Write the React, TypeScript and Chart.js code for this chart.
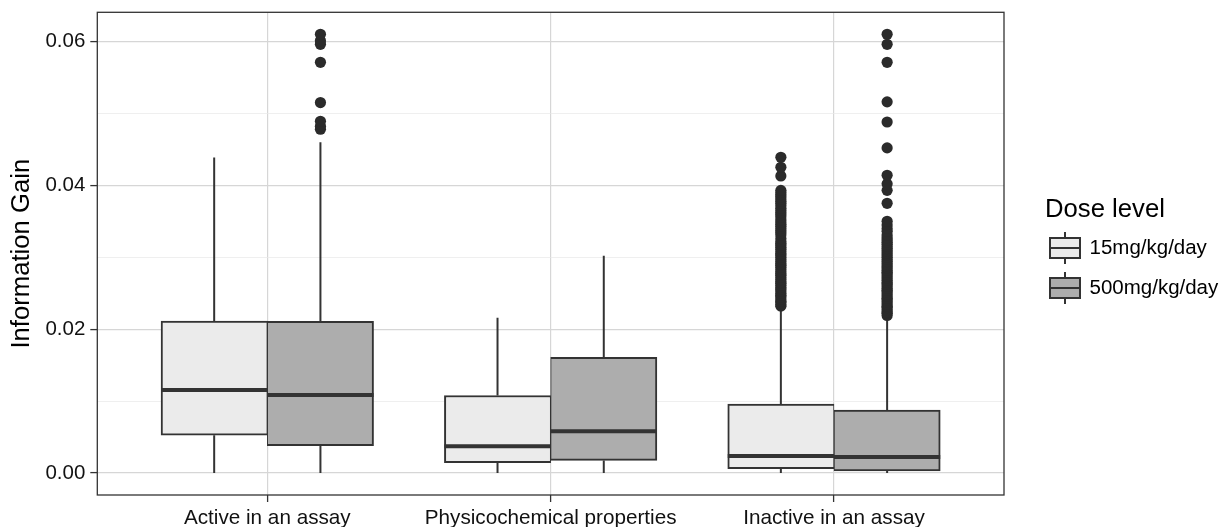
import { useEffect, useRef } from 'react';
import { Chart, registerables } from 'chart.js';

Chart.register(...registerables);

// ---------- data ----------
const categories = ['Active in an assay', 'Physicochemical properties', 'Inactive in an assay'];
const doseLevels = ['15mg/kg/day', '500mg/kg/day'];
const legendTitle = 'Dose level';
const yAxisTitle = 'Information Gain';

// box statistics per category (15mg/kg/day)
const low15 = [0, 0, 0];
const q1_15 = [0.00526, 0.00144, 0.0006];
const median15 = [0.01156, 0.00372, 0.00238];
const q3_15 = [0.02113, 0.01078, 0.0096];
const high15 = [0.04385, 0.0216, 0.0229];

// box statistics per category (500mg/kg/day)
const low500 = [0, 0, 0];
const q1_500 = [0.00382, 0.00176, 0.00028];
const median500 = [0.01086, 0.00582, 0.00224];
const q3_500 = [0.0211, 0.0161, 0.00876];
const high500 = [0.046, 0.0302, 0.0215];

// outliers per category
const outliers15: number[][] = [
  [],
  [],
  [
    0.0232, 0.0234, 0.0237, 0.0239, 0.0242, 0.0245, 0.0247, 0.025, 0.0253, 0.0256, 0.0258,
    0.0261, 0.0264, 0.0266, 0.0269, 0.0272, 0.0275, 0.0277, 0.028, 0.0283, 0.0286, 0.0289,
    0.0291, 0.0294, 0.0297, 0.03, 0.0303, 0.0305, 0.0308, 0.0311, 0.0314, 0.0317, 0.0319,
    0.0322, 0.0326, 0.0331, 0.0334, 0.0337, 0.034, 0.0343, 0.0346, 0.0349, 0.0352, 0.0356,
    0.0359, 0.0362, 0.0365, 0.0368, 0.0372, 0.0375, 0.0378, 0.0381, 0.0384, 0.0387, 0.039,
    0.0393, 0.0413, 0.0425, 0.0439,
  ],
];
const outliers500: number[][] = [
  [0.0478, 0.0482, 0.0489, 0.0515, 0.0571, 0.0596, 0.0601, 0.061],
  [],
  [
    0.0219, 0.0222, 0.0224, 0.0227, 0.023, 0.0232, 0.0235, 0.0238, 0.0241, 0.0243, 0.0246,
    0.0249, 0.0252, 0.0254, 0.0257, 0.026, 0.0263, 0.0265, 0.0268, 0.0271, 0.0274, 0.0277,
    0.0279, 0.0282, 0.0285, 0.0288, 0.0291, 0.0294, 0.0297, 0.03, 0.0303, 0.0306, 0.0309,
    0.0312, 0.0315, 0.0318, 0.0321, 0.0324, 0.0327, 0.0331, 0.0336, 0.034, 0.0345, 0.035,
    0.0375, 0.0393, 0.0402, 0.0414, 0.0452, 0.0488, 0.0516, 0.0571, 0.0596, 0.061,
  ],
];

const yGridValues = [0, 0.01, 0.02, 0.03, 0.04, 0.05, 0.06];
const yTickValues = [0, 0.02, 0.04, 0.06];
const yTickLabels = ['0.00', '0.02', '0.04', '0.06'];
const yMin = -0.00305;
const yMax = 0.06405;

// ---------- styles ----------
const FONT = "'Liberation Sans', Arial, Helvetica, sans-serif";
const doseFills = ['#EBEBEB', '#ADADAD'];
const lineColor = '#333333';
const pointColor = '#2b2b2b';
const dodge = 0.375; // box width in category units
const xMin = 0.4;
const xMax = 3.6;

const stats = [
  { low: low15, q1: q1_15, med: median15, q3: q3_15, high: high15, out: outliers15 },
  { low: low500, q1: q1_500, med: median500, q3: q3_500, high: high500, out: outliers500 },
];

const posOf = (cat: number, group: number) => cat + 1 + (group === 0 ? -dodge / 2 : dodge / 2);

function buildDatasets() {
  const datasets: any[] = [];
  stats.forEach((s, g) => {
    datasets.push({
      type: 'bar',
      label: doseLevels[g],
      data: categories.map((_, i) => ({ x: posOf(i, g), y: [s.q1[i], s.q3[i]] })),
      backgroundColor: doseFills[g],
      borderColor: lineColor,
      borderWidth: g === 0 ? { top: 2, bottom: 2, left: 2, right: 1 } : { top: 2, bottom: 2, left: 1, right: 2 },
      borderSkipped: false,
      grouped: false,
      barPercentage: 1,
      categoryPercentage: 1,
      order: 2,
    });
  });
  // whiskers
  const whiskerData: any[] = [];
  stats.forEach((s, g) => {
    categories.forEach((_, i) => {
      const x = posOf(i, g);
      whiskerData.push({ x, y: s.low[i] }, { x, y: s.q1[i] }, { x, y: null });
      whiskerData.push({ x, y: s.q3[i] }, { x, y: s.high[i] }, { x, y: null });
    });
  });
  datasets.push({
    type: 'line',
    label: 'whiskers',
    data: whiskerData,
    borderColor: lineColor,
    borderWidth: 2,
    pointRadius: 0,
    spanGaps: false,
    borderCapStyle: 'butt',
    order: 3,
  });
  // medians
  const medianData: any[] = [];
  stats.forEach((s, g) => {
    categories.forEach((_, i) => {
      const x = posOf(i, g);
      medianData.push({ x: x - dodge / 2, y: s.med[i] }, { x: x + dodge / 2, y: s.med[i] }, { x, y: null });
    });
  });
  datasets.push({
    type: 'line',
    label: 'medians',
    data: medianData,
    borderColor: lineColor,
    borderWidth: 4,
    pointRadius: 0,
    spanGaps: false,
    borderCapStyle: 'butt',
    order: 1,
  });
  // outliers
  stats.forEach((s, g) => {
    const pts: any[] = [];
    categories.forEach((_, i) => {
      s.out[i].forEach((v) => pts.push({ x: posOf(i, g), y: v }));
    });
    datasets.push({
      type: 'scatter',
      label: 'outliers ' + doseLevels[g],
      data: pts,
      backgroundColor: pointColor,
      borderWidth: 0,
      pointRadius: 5.6,
      order: 0,
    });
  });
  return datasets;
}

const panelBorder = {
  id: 'panelBorder',
  afterDatasetsDraw(chart: any) {
    const { ctx, chartArea } = chart;
    ctx.save();
    ctx.strokeStyle = lineColor;
    ctx.lineWidth = 1.3;
    ctx.strokeRect(chartArea.left, chartArea.top, chartArea.right - chartArea.left, chartArea.bottom - chartArea.top);
    ctx.restore();
  },
};

const doseLegend = {
  id: 'doseLegend',
  afterDraw(chart: any) {
    const { ctx, chartArea } = chart;
    const left = chartArea.right + 41;
    const key = 40;
    const firstCenter = 248;
    ctx.save();
    ctx.fillStyle = '#000';
    ctx.font = `25.7px ${FONT}`;
    ctx.textAlign = 'left';
    ctx.textBaseline = 'alphabetic';
    ctx.fillText(legendTitle, left, 217);
    doseLevels.forEach((name, i) => {
      const cy = firstCenter + i * key;
      const cx = left + key / 2;
      ctx.strokeStyle = lineColor;
      ctx.lineWidth = 2;
      ctx.beginPath();
      ctx.moveTo(cx, cy - 0.4 * key);
      ctx.lineTo(cx, cy - 0.25 * key);
      ctx.moveTo(cx, cy + 0.25 * key);
      ctx.lineTo(cx, cy + 0.4 * key);
      ctx.stroke();
      ctx.fillStyle = doseFills[i];
      ctx.fillRect(left + 0.125 * key, cy - 0.25 * key, 0.75 * key, 0.5 * key);
      ctx.strokeRect(left + 0.125 * key, cy - 0.25 * key, 0.75 * key, 0.5 * key);
      ctx.beginPath();
      ctx.moveTo(left + 0.125 * key, cy);
      ctx.lineTo(left + 0.875 * key, cy);
      ctx.stroke();
      ctx.fillStyle = '#000';
      ctx.font = `20.5px ${FONT}`;
      ctx.textBaseline = 'middle';
      ctx.fillText(name, left + key + 4.5, cy);
    });
    ctx.restore();
  },
};

const isMajorY = (v: number) => yTickValues.some((t) => Math.abs(t - v) < 1e-9);

export default function App() {
  const ref = useRef<HTMLCanvasElement>(null);
  useEffect(() => {
    if (!ref.current) return;
    const chart = new Chart(ref.current, {
      type: 'bar',
      data: { datasets: buildDatasets() },
      options: {
        animation: false,
        responsive: false,
        events: [],
        layout: { padding: { top: 12.3, right: 219, bottom: 0, left: 0 } },
        plugins: { legend: { display: false }, tooltip: { enabled: false } },
        scales: {
          x: {
            type: 'linear',
            min: xMin,
            max: xMax,
            offset: false,
            afterBuildTicks: (axis: any) => {
              axis.ticks = categories.map((_, i) => ({ value: i + 1 }));
            },
            afterFit: (scale: any) => {
              scale.height = 32;
              scale.paddingLeft = 0;
              scale.paddingRight = 0;
            },
            ticks: {
              autoSkip: false,
              maxRotation: 0,
              minRotation: 0,
              padding: 4,
              color: '#111',
              font: { family: FONT, size: 20.7 },
              callback: (v: any) => categories[Math.round(Number(v)) - 1] ?? '',
            },
            grid: {
              offset: false,
              color: '#d6d6d6',
              lineWidth: 1.2,
              tickColor: lineColor,
              tickLength: 7,
              tickWidth: 1.3,
            },
            border: { display: false },
          },
          y: {
            type: 'linear',
            min: yMin,
            max: yMax,
            afterBuildTicks: (axis: any) => {
              axis.ticks = yGridValues.map((value) => ({ value }));
            },
            afterFit: (scale: any) => {
              scale.width = 97.3;
              scale.paddingTop = 0;
              scale.paddingBottom = 0;
            },
            ticks: {
              autoSkip: false,
              padding: 5,
              color: '#111',
              font: { family: FONT, size: 20.5 },
              callback: (v: any) => {
                const k = yTickValues.findIndex((t) => Math.abs(t - Number(v)) < 1e-9);
                return k >= 0 ? yTickLabels[k] : '';
              },
            },
            grid: {
              color: (c: any) => (isMajorY(c.tick?.value ?? 0) ? '#d6d6d6' : '#e8e8e8'),
              lineWidth: (c: any) => (isMajorY(c.tick?.value ?? 0) ? 1.2 : 0.7),
              tickColor: (c: any) => (isMajorY(c.tick?.value ?? 0) ? lineColor : 'rgba(0,0,0,0)'),
              tickLength: 7,
              tickWidth: 1.3,
            },
            border: { display: false },
            title: {
              display: true,
              text: yAxisTitle,
              color: '#000',
              font: { family: FONT, size: 25.7 },
              padding: { top: 6.5, bottom: 0 },
            },
          },
        },
      },
      plugins: [panelBorder, doseLegend],
    } as any);
    return () => chart.destroy();
  }, []);
  return (
    <div style={{ position: 'fixed', left: 0, top: 0, width: 1223, height: 527, background: '#fff' }}>
      <canvas ref={ref} width={1223} height={527} style={{ width: 1223, height: 527, display: 'block' }} />
    </div>
  );
}
